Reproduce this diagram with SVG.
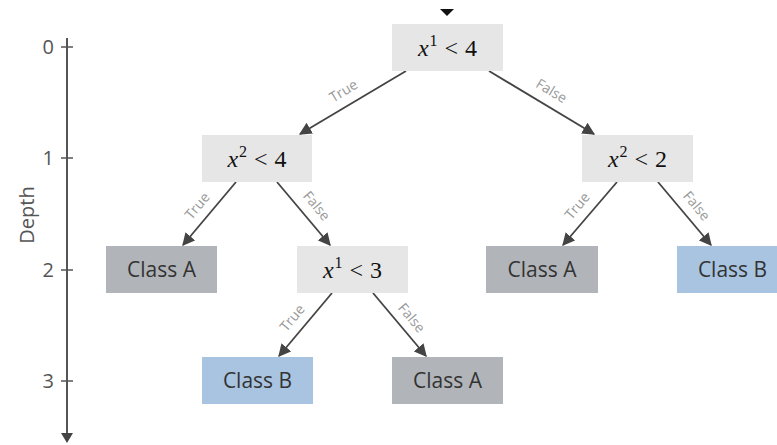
<svg xmlns="http://www.w3.org/2000/svg" width="777" height="445" viewBox="0 0 777 445">
<style>
.cond{fill:#e6e6e6}
.ca{fill:#b1b4b8}
.cb{fill:#a8c4e0}
.cls{font-family:"Open Sans","Liberation Sans",sans-serif;font-size:21px;fill:#333;text-anchor:middle}
.math{font-family:"Liberation Serif","DejaVu Serif",serif;font-size:24px;fill:#111;text-anchor:middle}
.lbl{font-family:"Open Sans","Liberation Sans",sans-serif;font-size:14px;fill:#999;text-anchor:middle}
.edge{stroke:#444;stroke-width:1.8;fill:none;marker-end:url(#ah)}
.ax{font-family:"Open Sans","Liberation Sans",sans-serif;font-size:20px;fill:#555}
</style>
<defs>
<marker id="ah" viewBox="0 0 10 10" refX="9" refY="5" markerWidth="7" markerHeight="7" markerUnits="strokeWidth" orient="auto">
<path d="M0,0 L10,5 L0,10 z" fill="#444"/>
</marker>
</defs>
<rect width="777" height="445" fill="#fff"/>
<g id="axis">
<line x1="67" y1="38" x2="67" y2="436" stroke="#555" stroke-width="2"/>
<path d="M61,433 L73,433 L67,443 z" fill="#444"/>
<g stroke="#555" stroke-width="1.5">
<line x1="61" y1="47" x2="73" y2="47"/>
<line x1="61" y1="158" x2="73" y2="158"/>
<line x1="61" y1="270" x2="73" y2="270"/>
<line x1="61" y1="381" x2="73" y2="381"/>
</g>
<text class="ax" x="54" y="54" text-anchor="end">0</text>
<text class="ax" x="54" y="165" text-anchor="end">1</text>
<text class="ax" x="54" y="277" text-anchor="end">2</text>
<text class="ax" x="54" y="388" text-anchor="end">3</text>
<text class="ax" transform="translate(34,215) rotate(-90)" text-anchor="middle" font-size="21">Depth</text>
</g>
<g id="start">
<path d="M440,9 L454,9 L447,16 z" fill="#111"/>
</g>
<g id="connectors">
<line class="edge" x1="406" y1="71" x2="300" y2="134"/>
<line class="edge" x1="489" y1="71" x2="594" y2="134"/>
<line class="edge" x1="236" y1="182" x2="183" y2="245"/>
<line class="edge" x1="277" y1="182" x2="330" y2="245"/>
<line class="edge" x1="617" y1="182" x2="563" y2="245"/>
<line class="edge" x1="658" y1="182" x2="711" y2="245"/>
<line class="edge" x1="332" y1="293" x2="279" y2="356"/>
<line class="edge" x1="373" y1="293" x2="426" y2="356"/>
<text class="lbl" transform="translate(346,95) rotate(-31)">True</text>
<text class="lbl" transform="translate(549,95) rotate(31)">False</text>
<text class="lbl" transform="translate(201,209) rotate(-50)">True</text>
<text class="lbl" transform="translate(313,209) rotate(50)">False</text>
<text class="lbl" transform="translate(581,209) rotate(-50)">True</text>
<text class="lbl" transform="translate(693,209) rotate(50)">False</text>
<text class="lbl" transform="translate(296,321) rotate(-50)">True</text>
<text class="lbl" transform="translate(408,321) rotate(50)">False</text>
</g>
<g id="root">
<rect class="cond" x="392" y="24" width="111" height="47"/>
<text class="math" x="447.5" y="56"><tspan font-style="italic">x</tspan><tspan font-size="16" dy="-10" dx="1">1</tspan><tspan dy="10" dx="7">&lt;</tspan><tspan dx="7">4</tspan></text>
</g>
<g id="n1l">
<rect class="cond" x="202" y="135" width="110" height="47"/>
<text class="math" x="257" y="167"><tspan font-style="italic">x</tspan><tspan font-size="16" dy="-10" dx="1">2</tspan><tspan dy="10" dx="7">&lt;</tspan><tspan dx="7">4</tspan></text>
</g>
<g id="n1r">
<rect class="cond" x="582" y="135" width="111" height="47"/>
<text class="math" x="637.5" y="167"><tspan font-style="italic">x</tspan><tspan font-size="16" dy="-10" dx="1">2</tspan><tspan dy="10" dx="7">&lt;</tspan><tspan dx="7">2</tspan></text>
</g>
<g id="n2a">
<rect class="ca" x="106" y="246" width="111" height="47"/>
<text class="cls" x="161.5" y="277">Class A</text>
</g>
<g id="n2b">
<rect class="cond" x="297" y="246" width="111" height="47"/>
<text class="math" x="352.5" y="278"><tspan font-style="italic">x</tspan><tspan font-size="16" dy="-10" dx="1">1</tspan><tspan dy="10" dx="7">&lt;</tspan><tspan dx="7">3</tspan></text>
</g>
<g id="n2c">
<rect class="ca" x="486" y="246" width="112" height="47"/>
<text class="cls" x="542" y="277">Class A</text>
</g>
<g id="n2d">
<rect class="cb" x="677" y="246" width="111" height="47"/>
<text class="cls" x="732.5" y="277">Class B</text>
</g>
<g id="n3a">
<rect class="cb" x="202" y="357" width="111" height="47"/>
<text class="cls" x="257.5" y="388">Class B</text>
</g>
<g id="n3b">
<rect class="ca" x="392" y="357" width="111" height="47"/>
<text class="cls" x="447.5" y="388">Class A</text>
</g>
</svg>
